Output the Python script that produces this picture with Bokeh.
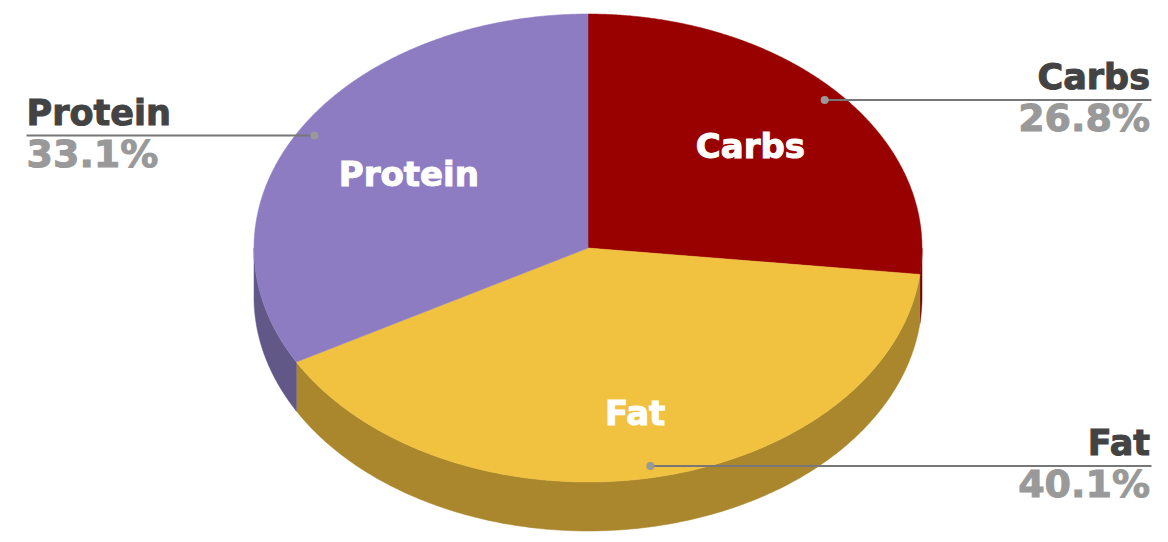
import numpy as np
from bokeh.plotting import figure
from bokeh.models import ColumnDataSource, Range1d
from bokeh.core.properties import value
from bokeh.embed import file_html
from bokeh.resources import INLINE

categories = ["Carbs", "Fat", "Protein"]
shares = [26.8, 40.1, 33.1]
top_colors = ["#990000", "#f1c240", "#8e7cc3"]
side_colors = ["#7a0000", "#aa872c", "#625888"]

CX, CY, RX, RY, DEPTH = 587.5, 247.5, 334, 234, 49
FONT = "DejaVu Sans"

p = figure(width=1152, height=534, output_backend="svg", toolbar_location=None,
           x_range=Range1d(0, 1152), y_range=Range1d(534, 0), min_border=0,
           outline_line_color=None, background_fill_color="white", border_fill_color="white")
p.axis.visible = False
p.grid.visible = False


def point(theta, scale=1.0, drop=0.0):
    return CX + scale * RX * np.sin(theta), CY - scale * RY * np.cos(theta) + drop


fractions = np.array(shares) / sum(shares)
edges = np.concatenate([[0], np.cumsum(fractions)]) * 2 * np.pi
starts, ends = edges[:-1], edges[1:]
mids = (starts + ends) / 2

# side walls: only the front half (pi/2 .. 3pi/2 from twelve o'clock) shows
sx, sy, sc = [], [], []
for a, b, c in zip(starts, ends, side_colors):
    lo, hi = max(a, np.pi / 2), min(b, 3 * np.pi / 2)
    if hi <= lo:
        continue
    t = np.linspace(lo, hi, 200)
    x0, y0 = point(t)
    x1, y1 = point(t[::-1], drop=DEPTH)
    sx.append(np.concatenate([x0, x1]))
    sy.append(np.concatenate([y0, y1]))
    sc.append(c)
p.patches(xs=sx, ys=sy, fill_color=sc, line_color=sc, line_width=0.5)

# top slices
tx, ty = [], []
for a, b in zip(starts, ends):
    t = np.linspace(a, b, 400)
    x0, y0 = point(t)
    tx.append(np.concatenate([[CX], x0]))
    ty.append(np.concatenate([[CY], y0]))
p.patches(xs=tx, ys=ty, fill_color=top_colors, line_color=top_colors, line_width=0.5)

# inner labels
inner_scale = [0.652, 0.718, 0.622]
ix, iy = zip(*[point(m, s) for m, s in zip(mids, inner_scale)])
p.text(x=list(ix), y=list(iy), text=categories, text_color="white", text_align="center",
       text_baseline="middle", text_font=value(FONT), text_font_style="bold", text_font_size="34px",
       text_outline_color="white")

# leaders
DOT_SCALE = 0.95
dx, dy = zip(*[point(m, DOT_SCALE) for m in mids])
LEFT, RIGHT = 26, 1151
line_end = [RIGHT if x > CX else LEFT for x in dx]
p.segment(x0=list(dx), y0=list(dy), x1=line_end, y1=list(dy), line_color="#777777", line_width=2)
p.scatter(x=list(dx), y=list(dy), size=8, marker="circle", fill_color="#999999", line_color=None)

# outer labels
aligns = ["left" if x < CX else "right" for x in dx]
text_x = [x - 1.5 if x > CX else x for x in line_end]
name_y = [y - 22.5 for y in dy]
pct_y = [y + 18.5 for y in dy]
src = ColumnDataSource(dict(x=text_x, ny=name_y, py=pct_y, align=aligns, name=categories,
                            pct=[f"{v:.1f}%" for v in shares]))
p.text(x="x", y="ny", text="name", source=src, text_align="align", text_baseline="alphabetic",
       text_color="#434343", text_font=value(FONT), text_font_style="bold", text_font_size="35px",
       text_outline_color="#434343")
p.text(x="x", y="py", text="pct", source=src, text_align="align", text_baseline="alphabetic",
       text_color="#999999", text_font=value(FONT), text_font_style="bold", text_font_size="38px",
       text_outline_color="#999999")

open("out.html", "w").write(file_html(p, INLINE))
